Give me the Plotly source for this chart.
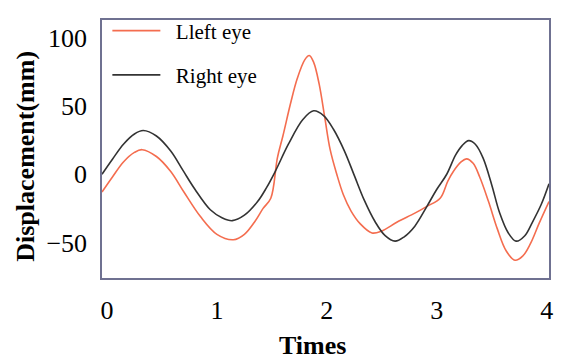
import plotly.graph_objects as go

# Right eye (black) readings
right_x = [-0.045, 0.05, 0.15, 0.25, 0.33, 0.45, 0.58, 0.69, 0.8, 0.94, 1.05, 1.14, 1.25, 1.37, 1.45, 1.53, 1.65,
           1.78, 1.88, 1.97, 2.06, 2.16, 2.25, 2.34, 2.44, 2.53, 2.62, 2.7, 2.8, 2.91, 3.0, 3.09, 3.17, 3.23,
           3.29, 3.35, 3.42, 3.5, 3.57, 3.65, 3.72, 3.8, 3.87, 3.95, 4.02]
right_y = [0, 11, 22, 29.5, 32, 28, 17, 3, -11, -26, -32, -34, -30, -20, -10, 2, 22,
           40, 46.5, 43, 33, 17, -1, -19, -35, -45, -49, -46, -38, -23.5, -11, 0, 14, 21,
           24.6, 22, 12, -8, -28, -43, -49, -45, -35, -22, -7]

# Left eye (orange) readings
left_x = [-0.045, 0.05, 0.15, 0.25, 0.32, 0.45, 0.58, 0.7, 0.85, 1.0, 1.15, 1.25, 1.35, 1.42, 1.49, 1.55, 1.6,
          1.67, 1.73, 1.8, 1.84, 1.88, 1.93, 1.98, 2.03, 2.09, 2.15, 2.22, 2.3, 2.41, 2.5, 2.64, 2.8, 2.91,
          3.03, 3.1, 3.15, 3.22, 3.27, 3.33, 3.39, 3.47, 3.55, 3.63, 3.71, 3.78, 3.85, 3.93, 4.02]
left_y = [-13, -2, 9, 16, 18, 13, 2, -13, -31, -44, -48, -44, -34, -25, -17.6, 12, 28,
          52, 70, 84, 87, 82, 66, 42, 18, 0, -15, -27, -36, -43, -41.5, -35, -28.5, -23.5,
          -17.6, -5, 2, 9, 11.3, 8, -2, -20, -40, -56, -63, -60, -51, -36, -20]

series_names = ["Lleft eye", "Right eye"]
x_ticks = [0, 1, 2, 3, 4]
y_ticks = [-50, 0, 50, 100]

FONT = "Liberation Serif"
FRAME = "#6f7191"

fig = go.Figure()
fig.add_trace(go.Scatter(x=left_x, y=left_y, mode="lines", name="&nbsp;&nbsp;" + series_names[0],
                         line=dict(color="#f46d4f", width=1.6, shape="spline", smoothing=1.0),
                         legendgroup="a"))
fig.add_trace(go.Scatter(x=right_x, y=right_y, mode="lines", name="&nbsp;&nbsp;" + series_names[1],
                         line=dict(color="#333333", width=1.6, shape="spline", smoothing=1.0),
                         legendgroup="b"))

fig.update_layout(
    width=560, height=355,
    margin=dict(l=94, r=19, t=2, b=85),
    plot_bgcolor="white", paper_bgcolor="white",
    font=dict(family=FONT, color="black"),
    showlegend=True,
    legend=dict(x=0.012, y=1.037, xanchor="left", yanchor="top",
                bgcolor="rgba(0,0,0,0)", font=dict(size=21, family=FONT),
                tracegroupgap=14, itemwidth=48),
    xaxis=dict(range=[-0.045, 4.02], tickvals=x_ticks, showgrid=False, zeroline=False,
               showline=True, linecolor=FRAME, linewidth=1.5, mirror=True,
               ticks="outside", ticklen=8, tickcolor="rgba(0,0,0,0)",
               tickfont=dict(size=26, family=FONT)),
    yaxis=dict(range=[-76, 113], tickvals=y_ticks, showgrid=False, zeroline=False,
               showline=True, linecolor=FRAME, linewidth=1.5, mirror=True,
               ticks="outside", ticklen=8, tickcolor="rgba(0,0,0,0)",
               tickfont=dict(size=26, family=FONT)),
    annotations=[
        dict(text="<b>Times</b>", xref="paper", yref="paper", x=0.47, y=-0.26,
             xanchor="center", yanchor="middle", showarrow=False,
             font=dict(size=26, family=FONT)),
        dict(text="<b>Displacement(mm)</b>", xref="paper", yref="paper", x=-0.17, y=0.47,
             xanchor="center", yanchor="middle", showarrow=False, textangle=-90,
             font=dict(size=26, family=FONT)),
    ],
)

fig.write_html("out.html")
